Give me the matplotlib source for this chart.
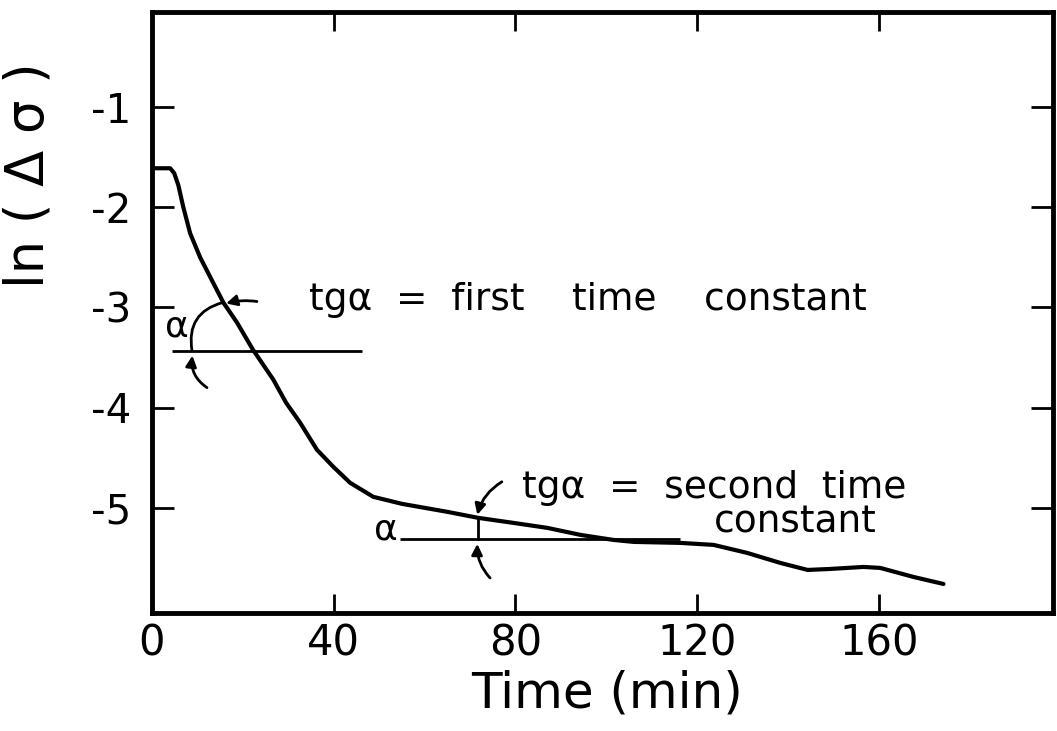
import matplotlib.pyplot as plt
import numpy as np

# ---------------------------------------------
# Data
# ---------------------------------------------
time_min = [0, 4.0, 4.9, 5.8, 6.9, 8.4, 10.6, 13.2, 15.7, 18.7, 22.2, 26.7,
            29.5, 32.6, 36.3, 39.9, 43.6, 48.7, 55, 60, 65, 71.8, 79.5, 87,
            94.3, 101.5, 106, 116.3, 123.6, 131, 138.3, 144.3, 149.3, 156.6,
            160.3, 167.6, 174.2]
ln_dsigma = [-1.61, -1.61, -1.66, -1.78, -2.00, -2.26, -2.50, -2.73, -2.95,
             -3.15, -3.42, -3.72, -3.95, -4.15, -4.42, -4.59, -4.75, -4.89,
             -4.96, -5.00, -5.04, -5.10, -5.15, -5.20, -5.27, -5.32, -5.34,
             -5.35, -5.37, -5.45, -5.55, -5.62, -5.61, -5.59, -5.60, -5.69,
             -5.76]

x_ticks = [0, 40, 80, 120, 160]
y_ticks = [-1, -2, -3, -4, -5]
y_ticklabels = ['-1', '-2', '-3', '-4', '-5']

# reference lines for the two slopes (x start, x end, level)
ref1 = (4.4, 46.3, -3.43)
ref2 = (54.6, 116.3, -5.31)

# ---------------------------------------------
# Figure
# ---------------------------------------------
fig = plt.figure(figsize=(10.57, 7.31), dpi=100)
ax = fig.add_axes([0.1438, 0.1614, 0.8524, 0.8222])

ax.plot(time_min, ln_dsigma, color='black', lw=3.0, solid_capstyle='round',
        solid_joinstyle='round')

ax.hlines(ref1[2], ref1[0], ref1[1], color='black', lw=2.0)
ax.hlines(ref2[2], ref2[0], ref2[1], color='black', lw=2.0)

# angle arcs and arrows
arrow_kw = dict(arrowstyle='-|>', color='black', lw=2.0, mutation_scale=16,
                shrinkA=0, shrinkB=0)
line_kw = dict(arrowstyle='-', color='black', lw=2.0, shrinkA=0, shrinkB=0)

ax.annotate('', xy=(15.6, -2.95), xytext=(8.8, -3.43),
            arrowprops=dict(connectionstyle='arc3,rad=-0.45', **line_kw))
ax.annotate('', xy=(16.3, -2.96), xytext=(23.1, -2.94),
            arrowprops=dict(connectionstyle='arc3,rad=0.1', **arrow_kw))
ax.annotate('', xy=(8.9, -3.48), xytext=(12.1, -3.80),
            arrowprops=dict(connectionstyle='arc3,rad=-0.3', **arrow_kw))

ax.plot([71.8, 71.8], [-5.10, -5.31], color='black', lw=2.0)
ax.annotate('', xy=(71.6, -5.07), xytext=(77.0, -4.74),
            arrowprops=dict(connectionstyle='arc3,rad=0.2', **arrow_kw))
ax.annotate('', xy=(71.6, -5.36), xytext=(74.4, -5.70),
            arrowprops=dict(connectionstyle='arc3,rad=-0.2', **arrow_kw))

# text
ax.text(5.5, -3.19, 'α', fontsize=26, ha='center', va='center')
ax.text(51.5, -5.22, 'α', fontsize=26, ha='center', va='center')
ax.text(34.5, -2.93, 'tgα  =  first    time    constant', fontsize=27,
        ha='left', va='center')
ax.text(81.5, -4.80, 'tgα  =  second  time', fontsize=27,
        ha='left', va='center')
ax.text(141.5, -5.15, 'constant', fontsize=27, ha='center', va='center')

# axes
ax.set_xlim(0, 198.3)
ax.set_ylim(-6.05, -0.05)
ax.set_xticks(x_ticks)
ax.set_yticks(y_ticks)
ax.set_yticklabels(y_ticklabels)
ax.tick_params(axis='both', direction='in', width=2.0,
               top=True, right=True)
ax.tick_params(axis='y', length=16, pad=15, labelsize=29)
ax.tick_params(axis='x', length=14, pad=7, labelsize=30)
for s in ax.spines.values():
    s.set_linewidth(3.5)

ax.set_xlabel('Time (min)', fontsize=36)
ax.xaxis.set_label_coords(0.505, -0.094)
ax.set_ylabel('ln ( Δ σ )', fontsize=38)
ax.yaxis.set_label_coords(-0.108, 0.729)

fig.savefig('out.png', dpi=100)
